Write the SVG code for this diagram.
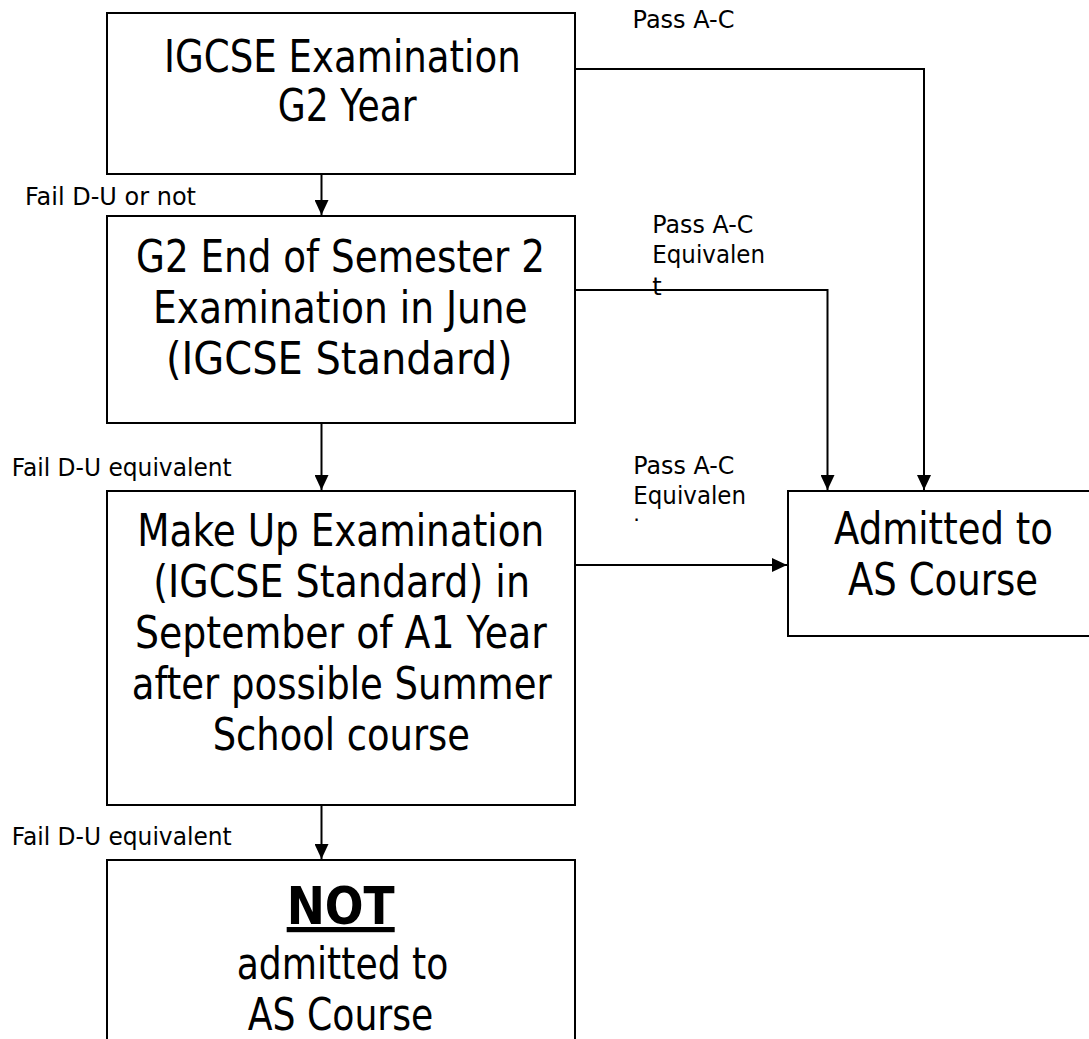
<svg xmlns="http://www.w3.org/2000/svg" width="1089" height="1039" viewBox="0 0 1089 1039">
  <style>
    .box { fill: #ffffff; stroke: #000000; stroke-width: 2; }
    .big { font-family: "DejaVu Sans", Verdana, sans-serif; font-size: 45px; fill: #000000; }
    .bold { font-family: "DejaVu Sans", Verdana, sans-serif; font-size: 52px; font-weight: bold; fill: #000000; text-decoration: underline; }
    .small { font-family: "DejaVu Sans", Verdana, sans-serif; font-size: 24px; fill: #000000; }
    .conn { fill: none; stroke: #000000; stroke-width: 2; }
  </style>
  <defs>
    <marker id="arrow" markerUnits="userSpaceOnUse" viewBox="0 0 15 14" refX="15" refY="7" markerWidth="15" markerHeight="14" orient="auto">
      <path d="M0,0 L15,7 L0,14 Z" fill="#000000"/>
    </marker>
    <clipPath id="clipLabel3">
      <rect x="600" y="440" width="180" height="81"/>
    </clipPath>
  </defs>
  <rect width="1089" height="1039" fill="#ffffff"/>

  <g id="connectors">
    <line class="conn" x1="321.5" y1="175" x2="321.5" y2="215" marker-end="url(#arrow)"/>
    <line class="conn" x1="321.5" y1="424" x2="321.5" y2="490" marker-end="url(#arrow)"/>
    <line class="conn" x1="321.5" y1="806" x2="321.5" y2="859" marker-end="url(#arrow)"/>
    <polyline class="conn" points="576,69 924,69 924,490" marker-end="url(#arrow)"/>
    <polyline class="conn" points="576,290 827.5,290 827.5,490" marker-end="url(#arrow)"/>
    <line class="conn" x1="576" y1="565" x2="787" y2="565" marker-end="url(#arrow)"/>
  </g>

  <g id="labels">
    <text class="small" x="632.5" y="28" textLength="102" lengthAdjust="spacingAndGlyphs">Pass A-C</text>
    <text class="small" x="25" y="205" textLength="171" lengthAdjust="spacingAndGlyphs">Fail D-U or not</text>
    <text class="small" x="652.3" y="233" textLength="101" lengthAdjust="spacingAndGlyphs">Pass A-C</text>
    <text class="small" x="652.3" y="263" textLength="112.7" lengthAdjust="spacingAndGlyphs">Equivalen</text>
    <text class="small" x="652.3" y="295">t</text>
    <text class="small" x="11.7" y="476" textLength="220" lengthAdjust="spacingAndGlyphs">Fail D-U equivalent</text>
    <g clip-path="url(#clipLabel3)">
      <text class="small" x="633.3" y="474" textLength="101" lengthAdjust="spacingAndGlyphs">Pass A-C</text>
      <text class="small" x="633.3" y="504" textLength="112.7" lengthAdjust="spacingAndGlyphs">Equivalen</text>
      <text class="small" x="633.3" y="536">t</text>
    </g>
    <text class="small" x="11.7" y="845" textLength="220" lengthAdjust="spacingAndGlyphs">Fail D-U equivalent</text>
  </g>

  <g id="node-igcse">
    <rect class="box" x="107" y="13" width="468" height="161"/>
    <text class="big" x="164" y="72" textLength="356.7" lengthAdjust="spacingAndGlyphs">IGCSE Examination</text>
    <text class="big" x="277.7" y="121" textLength="139" lengthAdjust="spacingAndGlyphs">G2 Year</text>
  </g>

  <g id="node-semester">
    <rect class="box" x="107" y="216" width="468" height="207"/>
    <text class="big" x="136" y="271.7" textLength="409" lengthAdjust="spacingAndGlyphs">G2 End of Semester 2</text>
    <text class="big" x="153" y="322.7" textLength="374.7" lengthAdjust="spacingAndGlyphs">Examination in June</text>
    <text class="big" x="166" y="373.5" textLength="346.7" lengthAdjust="spacingAndGlyphs">(IGCSE Standard)</text>
  </g>

  <g id="node-makeup">
    <rect class="box" x="107" y="491" width="468" height="314"/>
    <text class="big" x="137.3" y="545.5" textLength="407" lengthAdjust="spacingAndGlyphs">Make Up Examination</text>
    <text class="big" x="153.3" y="596.5" textLength="376.7" lengthAdjust="spacingAndGlyphs">(IGCSE Standard) in</text>
    <text class="big" x="135" y="648" textLength="411.7" lengthAdjust="spacingAndGlyphs">September of A1 Year</text>
    <text class="big" x="131.7" y="698.5" textLength="420" lengthAdjust="spacingAndGlyphs">after possible Summer</text>
    <text class="big" x="212.7" y="749.5" textLength="257.3" lengthAdjust="spacingAndGlyphs">School course</text>
  </g>

  <g id="node-not-admitted">
    <rect class="box" x="107" y="860" width="468" height="200"/>
    <text class="bold" x="286.7" y="924" textLength="108" lengthAdjust="spacingAndGlyphs">NOT</text>
    <text class="big" x="236.7" y="979" textLength="211.7" lengthAdjust="spacingAndGlyphs">admitted to</text>
    <text class="big" x="247.7" y="1030" textLength="185.7" lengthAdjust="spacingAndGlyphs">AS Course</text>
  </g>

  <g id="node-admitted">
    <rect class="box" x="788" y="491" width="311" height="145"/>
    <text class="big" x="834" y="544" textLength="219" lengthAdjust="spacingAndGlyphs">Admitted to</text>
    <text class="big" x="848" y="595" textLength="190" lengthAdjust="spacingAndGlyphs">AS Course</text>
  </g>
</svg>
